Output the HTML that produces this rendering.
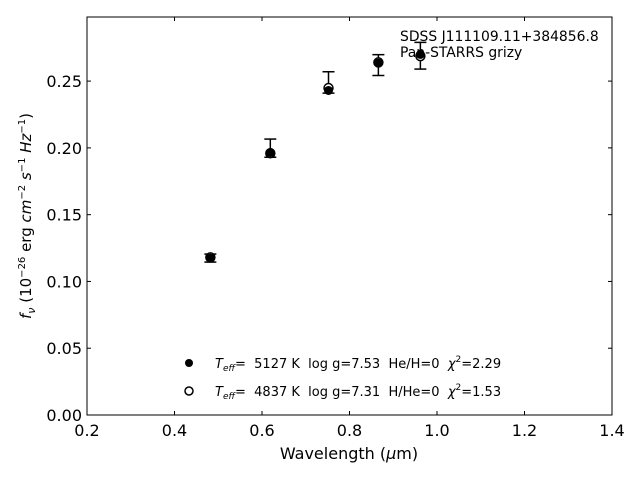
<!DOCTYPE html>
<html><head><meta charset="utf-8"><style>
body{margin:0;background:#fff}
svg{font-family:"DejaVu Sans","Liberation Sans",sans-serif}
text{white-space:pre}
</style></head><body>
<svg id="chart" width="640" height="480" viewBox="0 0 640 480" xml:space="preserve">
<rect x="0" y="0" width="640" height="480" fill="#fff"/>
<g id="ticks"></g>
<g id="marks"></g>
<rect x="87" y="17" width="525" height="398" fill="none" stroke="#000" stroke-width="1"/>
<text x="400" y="41" font-size="13.9">SDSS J111109.11+384856.8</text>
<text x="400" y="57" font-size="13.9">Pan-STARRS grizy</text>
<text x="349" y="459" font-size="16" text-anchor="middle">Wavelength (<tspan font-style="italic">μ</tspan>m)</text>
<text transform="translate(31,216) rotate(-90)" font-size="15" text-anchor="middle"><tspan font-style="italic">f<tspan font-size="11" dy="4">ν</tspan></tspan><tspan dy="-4"> (10</tspan><tspan font-size="10" dy="-6">−26</tspan><tspan dy="6"> erg </tspan><tspan font-style="italic">cm</tspan><tspan font-size="10" dy="-6">−2</tspan><tspan dy="6" font-style="italic"> s</tspan><tspan font-size="10" dy="-6">−1</tspan><tspan dy="6" font-style="italic"> Hz</tspan><tspan font-size="10" dy="-6">−1</tspan><tspan dy="6">)</tspan></text>
<g>
<circle cx="189" cy="363" r="4" fill="#000"/>
<text x="215" y="368" font-size="13"><tspan font-style="italic">T</tspan><tspan font-style="italic" font-size="9" dy="3">eff</tspan><tspan dy="-3">=  5127 K  log g=7.53  He/H=0  </tspan><tspan font-style="italic">χ</tspan><tspan font-size="9" dy="-6">2</tspan><tspan dy="6">=2.29</tspan></text>
<circle cx="189" cy="391" r="4" fill="#fff" stroke="#000" stroke-width="1.5"/>
<text x="215" y="396" font-size="13"><tspan font-style="italic">T</tspan><tspan font-style="italic" font-size="9" dy="3">eff</tspan><tspan dy="-3">=  4837 K  log g=7.31  H/He=0  </tspan><tspan font-style="italic">χ</tspan><tspan font-size="9" dy="-6">2</tspan><tspan dy="6">=1.53</tspan></text>
</g>
</svg>
<script>
const wavelengths=[0.482,0.619,0.752,0.866,0.962];
const obsFlux=[0.1175,0.1998,0.2490,0.2620,0.2690];
const obsErr=[0.0030,0.0068,0.0080,0.0078,0.0100];
const modelHHe=[0.1175,0.1965,0.2430,0.2635,0.2700];
const modelHe=[0.1180,0.1960,0.2448,0.2640,0.2687];
const xTicks=[0.2,0.4,0.6,0.8,1.0,1.2,1.4];
const yTicks=[0.00,0.05,0.10,0.15,0.20,0.25];
const X0=87,X1=612,Y0=415,Y1=17,xmin=0.2,xmax=1.4,ymin=0,ymax=0.298;
const sx=v=>X0+(v-xmin)/(xmax-xmin)*(X1-X0);
const sy=v=>Y0-(v-ymin)/(ymax-ymin)*(Y0-Y1);
const NS='http://www.w3.org/2000/svg';
function mk(tag,at,parent){const e=document.createElementNS(NS,tag);for(const k in at)e.setAttribute(k,at[k]);parent.appendChild(e);return e;}
const tg=document.getElementById('ticks'),mg=document.getElementById('marks');
xTicks.forEach(t=>{const x=sx(t);
 const l=mk('line',{x1:x,x2:x,y1:Y0,y2:Y0-4,stroke:'#000'},tg);
 
 
 const l2=mk('line',{x1:x,x2:x,y1:Y1,y2:Y1+4,stroke:'#000'},tg);
 
 
 const tx=mk('text',{x:x,y:Y0+21,'font-size':16,'text-anchor':'middle'},tg);tx.textContent=t.toFixed(1);
 
 });
yTicks.forEach(t=>{const y=sy(t);
 const l=mk('line',{x1:X0,x2:X0+4,y1:y,y2:y,stroke:'#000'},tg);
 
 
 const l2=mk('line',{x1:X1,x2:X1-4,y1:y,y2:y,stroke:'#000'},tg);
 
 
 const tx=mk('text',{x:X0-5,y:y+6,'font-size':16,'text-anchor':'end'},tg);tx.textContent=t.toFixed(2);
 
 });
wavelengths.forEach((w,i)=>{const x=sx(w);
 const g=mk('g',{},mg);
 
 
 const yt=sy(obsFlux[i]+obsErr[i]),yb=sy(obsFlux[i]-obsErr[i]);
 mk('line',{x1:x,x2:x,y1:yt,y2:yb,stroke:'#000','stroke-width':1.5},g);
 mk('line',{x1:x-6,x2:x+6,y1:yt,y2:yt,stroke:'#000','stroke-width':1.5},g);
 mk('line',{x1:x-6,x2:x+6,y1:yb,y2:yb,stroke:'#000','stroke-width':1.5},g);
 const o=mk('circle',{cx:x,cy:sy(modelHe[i]),r:4.5,fill:'#fff',stroke:'#000','stroke-width':1.5},mg);
 
 
 const f=mk('circle',{cx:x,cy:sy(modelHHe[i]),r:4.5,fill:'#000'},mg);
 
 });
</script>
</body></html>
